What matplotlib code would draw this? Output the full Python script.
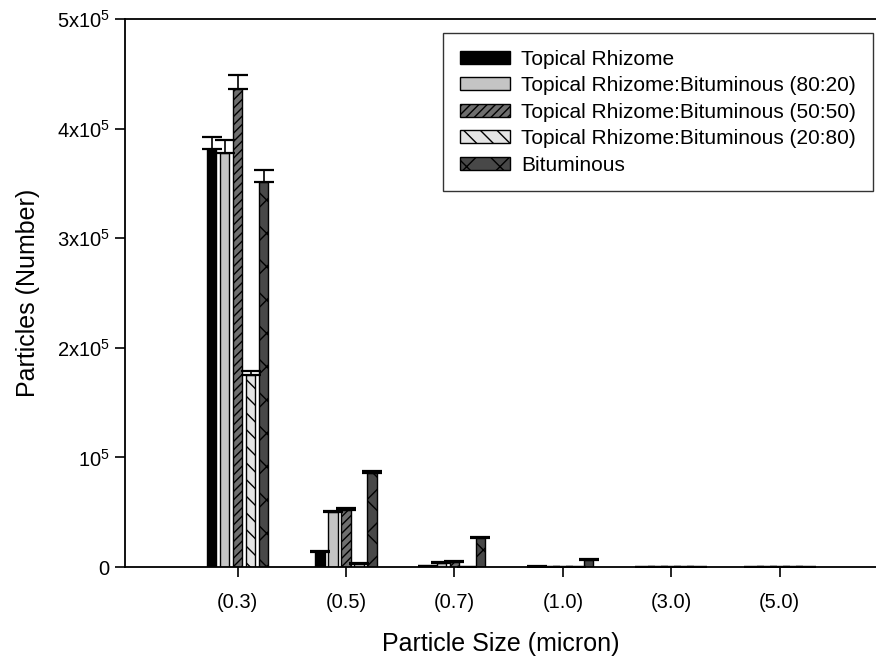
import numpy as np
import matplotlib
matplotlib.use('Agg')
import matplotlib.pyplot as plt

plt.rcParams['font.family'] = ['Liberation Sans', 'DejaVu Sans']
plt.rcParams['mathtext.fontset'] = 'custom'
plt.rcParams['mathtext.rm'] = 'Liberation Sans'
plt.rcParams['mathtext.it'] = 'Liberation Sans'
plt.rcParams['hatch.linewidth'] = 1.0

sizes = ['(0.3)', '(0.5)', '(0.7)', '(1.0)', '(3.0)', '(5.0)']

series_names = ['Topical Rhizome',
                'Topical Rhizome:Bituminous (80:20)',
                'Topical Rhizome:Bituminous (50:50)',
                'Topical Rhizome:Bituminous (20:80)',
                'Bituminous']

rhizome = [381000, 14000, 800, 300, 0, 0]
rhizome_err = [11000, 800, 300, 200, 0, 0]
mix_80_20 = [378000, 50000, 4000, 0, 0, 0]
mix_80_20_err = [12000, 1000, 1000, 0, 0, 0]
mix_50_50 = [436000, 52000, 4500, 0, 0, 0]
mix_50_50_err = [13000, 1500, 1000, 0, 0, 0]
mix_20_80 = [175000, 3000, 0, 0, 0, 0]
mix_20_80_err = [4000, 500, 0, 0, 0, 0]
bituminous = [351000, 86000, 26500, 6400, 0, 0]
bituminous_err = [11000, 1500, 600, 1000, 0, 0]

values = [rhizome, mix_80_20, mix_50_50, mix_20_80, bituminous]
errors = [rhizome_err, mix_80_20_err, mix_50_50_err, mix_20_80_err, bituminous_err]

faces = ['#000000', '#c4c4c4', '#6e6e6e', '#e4e4e4', '#484848']
hatches = [None, None, '////', '\\\\', 'x']

fig = plt.figure(figsize=(8.76, 6.62), dpi=100)
ax = fig.add_axes([0.1427, 0.1435, 0.8573, 0.8278])

x = np.arange(len(sizes))
step = 0.12
width = 0.085

for i in range(len(values)):
    pos = x + (i - 2) * step
    ax.bar(pos, values[i], width, color=faces[i], edgecolor='black',
           linewidth=1.0, hatch=hatches[i], label=series_names[i])
    ax.errorbar(pos, values[i], yerr=[np.zeros(len(sizes)), errors[i]],
                fmt='none', ecolor='black', elinewidth=1.2, capsize=7,
                capthick=1.6)

ax.set_xlim(-1.04, 5.89)
ax.set_ylim(0, 500000)
ax.set_xticks(x)
ax.set_xticklabels(sizes, fontsize=14.5)
ax.set_yticks([0, 100000, 200000, 300000, 400000, 500000])
ax.set_yticklabels(['0', r'10$^5$', r'2x10$^5$', r'3x10$^5$', r'4x10$^5$', r'5x10$^5$'],
                   fontsize=14.5)
ax.tick_params(direction='out', length=7, width=1.2)
ax.tick_params(axis='x', pad=12)
ax.tick_params(axis='y', pad=4)

ax.spines['right'].set_visible(False)
for s in ['left', 'top', 'bottom']:
    ax.spines[s].set_linewidth(1.3)

ax.set_xlabel('Particle Size (micron)', fontsize=18, labelpad=14)
ax.set_ylabel('Particles (Number)', fontsize=18, labelpad=12)

leg = ax.legend(loc='upper left', bbox_to_anchor=(0.4235, 0.9745), fontsize=15,
                frameon=True, fancybox=False, edgecolor='black',
                handlelength=2.4, handleheight=0.6, labelspacing=0.36,
                borderpad=0.8, handletextpad=0.55, borderaxespad=0)
leg.get_frame().set_linewidth(1.0)

fig.savefig('out.png', dpi=100)
